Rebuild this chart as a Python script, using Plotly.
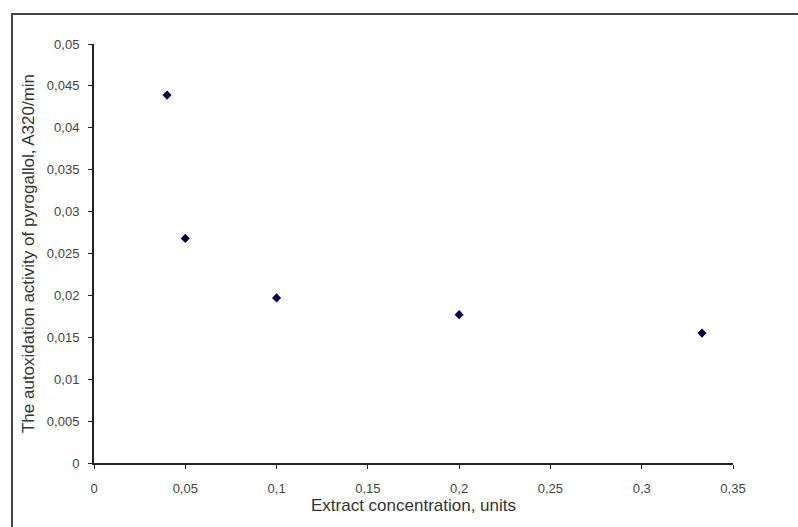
import plotly.graph_objects as go

concentration = [0.04, 0.05, 0.1, 0.2, 0.333]
activity = [0.0439, 0.0268, 0.0197, 0.0177, 0.0155]

x_title = "Extract concentration, units"
y_title = "The autoxidation activity of pyrogallol, A320/min"

fig = go.Figure()
fig.add_trace(go.Scatter(
    x=concentration, y=activity, mode="markers",
    marker=dict(symbol="diamond", size=7, color="#000055"),
    showlegend=False,
))

W, H = 798, 527
l, r, t, b = 94, 65, 44, 64
pw, ph = W - l - r, H - t - b

def px_to_paper_x(px):
    return (px - l) / pw

def px_to_paper_y(py):
    return (H - b - py) / ph

fig.add_shape(type="rect", xref="paper", yref="paper",
              x0=px_to_paper_x(12), x1=px_to_paper_x(810),
              y0=px_to_paper_y(540), y1=px_to_paper_y(14),
              line=dict(color="#444444", width=2), fillcolor="rgba(0,0,0,0)", layer="below")

axis_font = dict(family="Liberation Sans, Arial", size=13, color="#444444")
title_font = dict(family="Liberation Sans, Arial", size=17, color="#333333")
fig.update_layout(
    width=W, height=H,
    margin=dict(l=l, r=r, t=t, b=b),
    paper_bgcolor="white", plot_bgcolor="white",
    separators=", ",
    xaxis=dict(
        range=[0, 0.35], dtick=0.05, tick0=0,
        showgrid=False, zeroline=False,
        showline=True, linecolor="#222222", linewidth=2,
        ticks="outside", ticklen=4, tickcolor="#222222",
        tickfont=axis_font, ticklabelstandoff=8,
        title=dict(text=x_title, font=title_font, standoff=5),
    ),
    yaxis=dict(
        range=[0, 0.05], dtick=0.005, tick0=0,
        showgrid=False, zeroline=False,
        showline=True, linecolor="#222222", linewidth=2,
        ticks="outside", ticklen=4, tickcolor="#222222",
        tickfont=axis_font, ticklabelstandoff=6,
        title=dict(text=y_title, font=title_font, standoff=8),
    ),
)

fig.write_html("out.html")
